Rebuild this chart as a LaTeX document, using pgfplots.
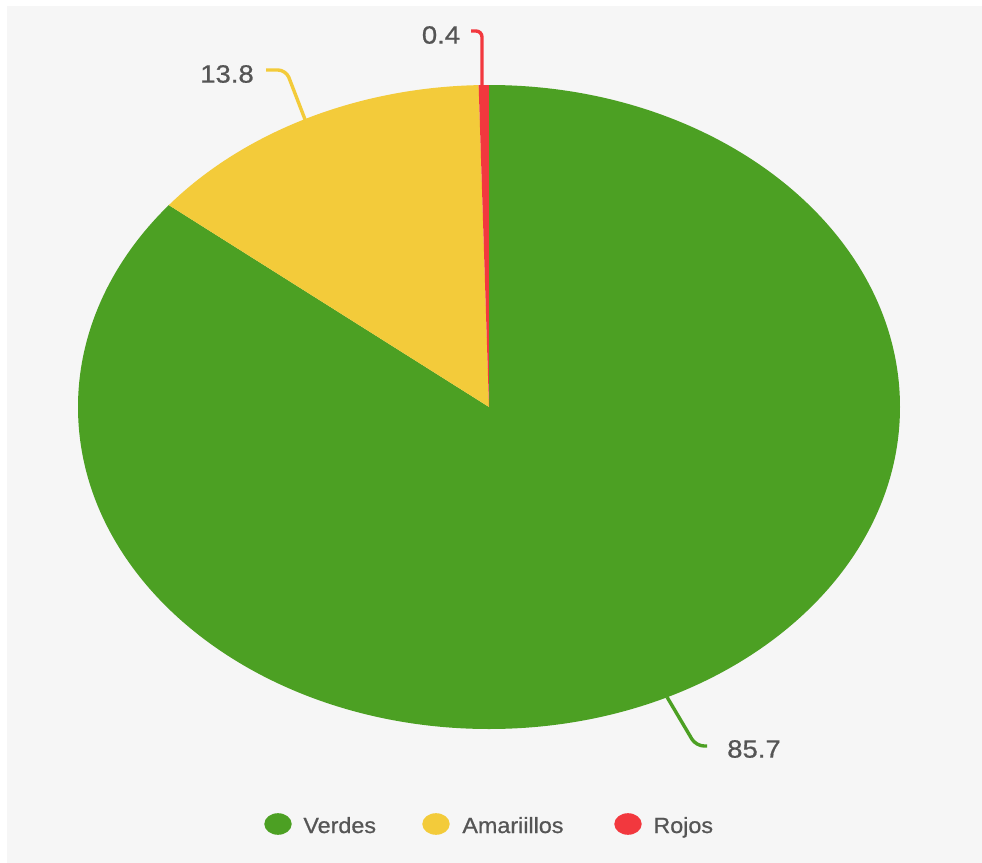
\documentclass[border=0pt]{standalone}
\usepackage{pgfplots}
\usepackage{pgfplotstable}
\pgfplotsset{compat=1.18}
\usepackage{fontspec}
\setmainfont{Liberation Sans}
\newfontfamily\medfont{Liberation Sans}[FakeBold=0.7]
\definecolor{bggray}{HTML}{F6F6F6}
\definecolor{cVerdes}{HTML}{4CA023}
\definecolor{cAmarillos}{HTML}{F3CB3A}
\definecolor{cRojos}{HTML}{F2383E}
\definecolor{txtgray}{HTML}{555555}
\pgfplotstableread{
label value
Verdes 85.7
Amariillos 13.8
Rojos 0.4
}\piedata
\begin{document}
\begin{tikzpicture}
\pgfplotstablegetelem{0}{value}\of\piedata \let\va\pgfplotsretval
\pgfplotstablegetelem{1}{value}\of\piedata \let\vb\pgfplotsretval
\pgfplotstablegetelem{2}{value}\of\piedata \let\vc\pgfplotsretval
\pgfmathsetmacro{\tot}{\va+\vb+\vc}
\pgfmathsetmacro{\aA}{90-(\va/\tot)*360}
\pgfmathsetmacro{\aB}{\aA-(\vb/\tot)*360}
\pgfmathsetmacro{\aC}{\aB-(\vc/\tot)*360}
\begin{axis}[
  hide axis, scale only axis, clip=false,
  x=0.5pt, y=0.5pt, y dir=reverse,
  xmin=0, xmax=982, ymin=0, ymax=863,
]
\fill[white] (axis cs:0,0) rectangle (axis cs:982,863);
\fill[bggray] (axis cs:7,6) rectangle (axis cs:982,863);
% pie slices (centre 489,407; radii 411 x 322 px)
\fill[cVerdes] (axis cs:489,407) -- ([shift={(90:205.5pt and 161pt)}]axis cs:489,407)
  arc[start angle=90, end angle=\aA, x radius=205.5pt, y radius=161pt] -- cycle;
\fill[cAmarillos] (axis cs:489,407) -- ([shift={(\aA:205.5pt and 161pt)}]axis cs:489,407)
  arc[start angle=\aA, end angle=\aB, x radius=205.5pt, y radius=161pt] -- cycle;
\fill[cRojos] (axis cs:489,407) -- ([shift={(\aB:205.5pt and 161pt)}]axis cs:489,407)
  arc[start angle=\aB, end angle=\aC, x radius=205.5pt, y radius=161pt] -- cycle;
% leader lines
\draw[cRojos, line width=1.7pt, rounded corners=3pt] (axis cs:482,88) -- (axis cs:482,31) -- (axis cs:471,31);
\draw[cAmarillos, line width=1.7pt, rounded corners=4pt] (axis cs:306,122) -- (axis cs:286,70) -- (axis cs:266,70);
\draw[cVerdes, line width=1.7pt, rounded corners=4pt] (axis cs:667,697) -- (axis cs:696,746) -- (axis cs:707,746);
% labels
\node[font=\medfont\fontsize{12.5}{14}\selectfont, text=txtgray, xscale=1.1, transform shape] at (axis cs:441,35) {\vc};
\node[font=\medfont\fontsize{12.5}{14}\selectfont, text=txtgray, xscale=1.1, transform shape] at (axis cs:227,74) {\vb};
\node[font=\medfont\fontsize{12.5}{14}\selectfont, text=txtgray, xscale=1.1, transform shape] at (axis cs:754,749) {\va};
% legend
\fill[cVerdes] (axis cs:278,824) ellipse[x radius=6.85pt, y radius=5.4pt];
\fill[cAmarillos] (axis cs:436,824) ellipse[x radius=6.85pt, y radius=5.4pt];
\fill[cRojos] (axis cs:628,824) ellipse[x radius=6.85pt, y radius=5.4pt];
\node[font=\medfont\fontsize{11}{13}\selectfont, text=txtgray, anchor=base west, inner sep=0pt, xscale=1.06, transform shape] at (axis cs:303,833) {Verdes};
\node[font=\medfont\fontsize{11}{13}\selectfont, text=txtgray, anchor=base west, inner sep=0pt, xscale=1.06, transform shape] at (axis cs:462,833) {Amariillos};
\node[font=\medfont\fontsize{11}{13}\selectfont, text=txtgray, anchor=base west, inner sep=0pt, xscale=1.06, transform shape] at (axis cs:653,833) {Rojos};
\end{axis}
\end{tikzpicture}
\end{document}
